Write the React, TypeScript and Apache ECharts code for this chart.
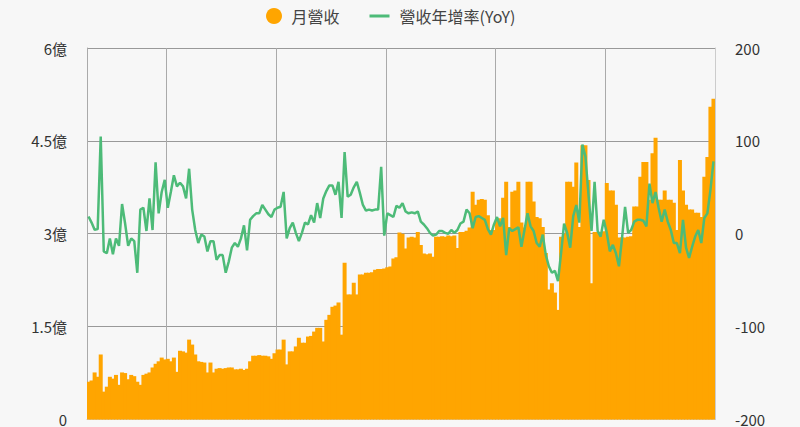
import { useEffect, useRef } from 'react';
import * as echarts from 'echarts';

// Monthly revenue (億) and year-over-year growth (%) from 2007/11 to 2024/12
const START_YEAR = 2007;
const START_MONTH = 11;

const revenue = [
  0.61, 0.63, 0.76, 0.69, 1.05, 0.45, 0.53, 0.69, 0.66, 0.72,
  0.56, 0.76, 0.75, 0.65, 0.72, 0.70, 0.61, 0.56, 0.72, 0.74,
  0.76, 0.84, 0.90, 0.94, 1.00, 0.97, 0.98, 0.94, 1.00, 0.77,
  1.11, 1.10, 1.08, 1.29, 1.21, 1.05, 0.94, 0.93, 0.92, 0.76,
  0.92, 0.76, 0.82, 0.83, 0.82, 0.83, 0.84, 0.84, 0.81, 0.81,
  0.82, 0.80, 0.82, 0.94, 1.03, 1.03, 1.04, 1.03, 1.03, 1.02,
  0.98, 1.07, 1.13, 1.13, 1.29, 0.89, 1.10, 1.10, 1.18, 1.32,
  1.24, 1.24, 1.34, 1.35, 1.42, 1.48, 1.48, 1.26, 1.61, 1.69,
  1.82, 1.84, 1.89, 1.37, 2.53, 2.02, 2.02, 2.21, 2.02, 2.34,
  2.34, 2.37, 2.37, 2.38, 2.42, 2.43, 2.43, 2.44, 2.46, 2.47,
  2.60, 2.62, 3.02, 3.00, 2.76, 2.94, 2.95, 2.94, 3.03, 2.82,
  2.68, 2.67, 2.68, 2.63, 2.95, 2.95, 2.96, 2.95, 2.97, 2.96,
  2.97, 2.77, 3.03, 3.03, 3.05, 3.10, 3.68, 3.47, 3.55, 3.56,
  3.55, 3.30, 3.06, 3.06, 3.23, 3.25, 3.58, 3.84, 3.11, 3.68,
  3.70, 3.84, 3.18, 3.10, 3.84, 3.84, 3.52, 3.27, 3.25, 3.11,
  2.69, 2.10, 2.20, 2.05, 1.77, 2.95, 3.00, 3.84, 3.84, 3.76,
  4.15, 3.11, 4.43, 4.43, 3.87, 2.20, 3.03, 3.03, 3.03, 3.04,
  3.82, 3.70, 3.70, 3.47, 2.94, 2.94, 2.94, 2.95, 2.96, 3.44,
  3.44, 3.92, 4.16, 4.16, 3.55, 4.30, 4.55, 3.55, 3.55, 3.70,
  3.55, 3.55, 3.50, 3.06, 4.19, 3.70, 3.47, 3.39, 3.39, 3.34,
  3.34, 3.27, 3.92, 4.24, 5.05, 5.18,
];

const yoy = [
  18.6, 12, 4.3, 5, 104.6, -19, -21, -5, -22, -5,
  -13, 32, 11, -13, -5, -8, -42, 26, 28, 3,
  38, 4, 77, 22, 45, 58, 28, 45, 63, 51,
  55, 51, 38, 70, 26, 4, -10, -1, -3, -19,
  -8, -8, -28, -23, -23, -42, -30, -15, -10, -14,
  -5, 9, -18, 15, 19, 22, 22, 31, 26, 21,
  18, 26, 28, 29, 45, -5, 6, 12, 1, -8,
  1, 12, 10, 20, 12, 33, 17, 38, 46, 52,
  52, 42, 56, 17, 88, 40, 42, 50, 56, 44,
  31, 25, 26, 25, 26, 26, 72, -2, 22, 20,
  18, 30, 28, 33, 24, 22, 23, 22, 24, 13,
  10, 6, 1, -2, -1, 3, 3, 1, 0, 4,
  1, 4, 11, 13, 26, 22, 6, 18, 19, 17,
  15, 5, -1, 10, 18, 8, 17, -23, 6, 3,
  5, 7, -14, 4, 22, 8, 3, -10, -14, -1,
  -23, -35, -42, -40, -51, -21, 11, 1, -15, 19,
  31, 12, 96, 83, 42, 3, 56, 3, -3, 15,
  1, -19, -12, -21, -35, -5, 29, 1, 4, 13,
  15, 15, 14, 8, 54, 33, 45, 28, 13, 26,
  13, 4, -10, -10, -21, 15, -15, -26, -14, -3,
  4, -10, 17, 22, 47, 78,
];

const months = revenue.map((_, i) => {
  const m = START_MONTH - 1 + i;
  const y = START_YEAR + Math.floor(m / 12);
  return `${y}/${String((m % 12) + 1).padStart(2, '0')}`;
});

const seriesNames = ['月營收', '營收年增率(YoY)'];
const FONT = '"Noto Sans CJK TC", "Noto Sans", sans-serif';
const BAR_COLOR = '#ffa500';
const LINE_COLOR = '#4dbb78';

// Legend glyph for the growth line: a 20px stroke inside a 25x16 box
const LINE_ICON =
  'path://M0,0h0.01v0.01H0z M0,6.5h20v3H0z M24.99,15.99h0.01v0.01h-0.01z';

export default function App() {
  const ref = useRef<HTMLDivElement>(null);

  useEffect(() => {
    if (!ref.current) return;
    const chart = echarts.init(ref.current, null, { renderer: 'svg' });
    chart.setOption({
      animation: false,
      backgroundColor: '#f7f7f7',
      textStyle: { fontFamily: FONT },
      legend: {
        top: 3,
        left: 261,
        itemWidth: 25,
        itemHeight: 16,
        itemGap: 30,
        textStyle: { fontSize: 16, color: '#444', fontFamily: FONT },
        data: [
          { name: seriesNames[0], icon: 'circle' },
          { name: seriesNames[1], icon: LINE_ICON, itemStyle: { color: LINE_COLOR } },
        ],
      },
      grid: { left: 87, right: 85, top: 48, bottom: 7, containLabel: false },
      xAxis: {
        type: 'category',
        data: months,
        boundaryGap: true,
        axisLabel: { show: false },
        axisTick: { show: false },
        axisLine: { show: true, lineStyle: { color: '#ccc' } },
        splitLine: {
          show: true,
          interval: (index: number, value: string) =>
            index > 0 && value.endsWith('/01') && (Number(value.slice(0, 4)) - 2010) % 3 === 0,
          lineStyle: { color: '#aaa', width: 1 },
        },
      },
      yAxis: [
        {
          type: 'value',
          min: 0,
          max: 6,
          interval: 1.5,
          axisLine: { show: true, lineStyle: { color: '#aaa' } },
          axisTick: { show: false },
          axisLabel: {
            margin: 20,
            fontSize: 15,
            color: '#333',
            fontFamily: FONT,
            formatter: (v: number) => (v === 0 ? '0' : `${v}億`),
          },
          splitLine: { show: true, lineStyle: { color: '#999', width: 1 } },
        },
        {
          type: 'value',
          min: -200,
          max: 200,
          interval: 100,
          axisLine: { show: true, lineStyle: { color: '#ccc' } },
          axisTick: { show: false },
          axisLabel: { margin: 20, fontSize: 15, color: '#333', fontFamily: FONT },
          splitLine: { show: false },
        },
      ],
      series: [
        {
          name: seriesNames[0],
          type: 'bar',
          data: revenue,
          barWidth: 4,
          itemStyle: { color: BAR_COLOR },
        },
        {
          name: seriesNames[1],
          type: 'line',
          yAxisIndex: 1,
          data: yoy,
          symbol: 'none',
          lineStyle: { color: LINE_COLOR, width: 2.5 },
          itemStyle: { color: LINE_COLOR },
        },
      ],
    });
    return () => chart.dispose();
  }, []);

  return (
    <div
      ref={ref}
      style={{ position: 'fixed', left: 0, top: 0, width: 800, height: 427 }}
    />
  );
}
